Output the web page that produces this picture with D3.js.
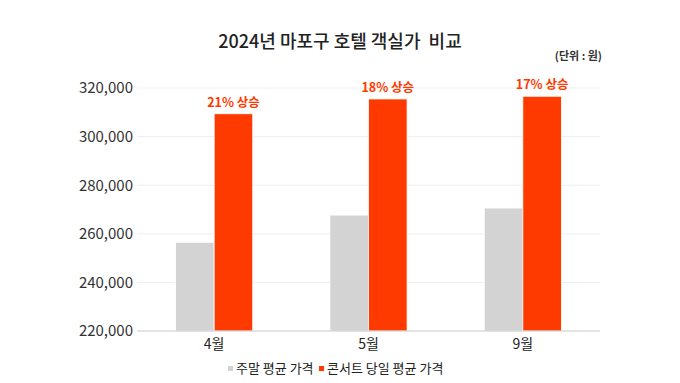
<!DOCTYPE html>
<html><head><meta charset="utf-8">
<script src="https://cdn.jsdelivr.net/npm/d3@7"></script>
<style>body{margin:0;background:#fff}svg{display:block;font-family:"Noto Sans CJK KR","Noto Sans",sans-serif}</style>
</head><body><svg id="c" width="680" height="383"></svg>
<script>
const categories = ["4월", "5월", "9월"];
const seriesNames = ["주말 평균 가격", "콘서트 당일 평균 가격"];
const weekendPrice = [256500, 267700, 270600];
const concertPrice = [309400, 315500, 316600];
const riseLabels = ["21% 상승", "18% 상승", "17% 상승"];
const yTicks = [220000, 240000, 260000, 280000, 300000, 320000];
const colors = ["#d3d3d3", "#ff3a00"];

const svg = d3.select("#c");
const m = {l: 137, r: 600, t: 88, b: 331};
const x = d3.scaleBand().domain(categories).range([m.l, m.r]).paddingInner(0.5).paddingOuter(0.25);
const y = d3.scaleLinear().domain([220000, 320000]).range([m.b, m.t]);
const x1 = d3.scaleBand().domain([0, 1]).range([0, x.bandwidth()]);

// title
svg.append("text").attr("x", 340).attr("y", 48).attr("text-anchor", "middle")
  .style("white-space", "pre")
  .attr("font-size", 18).attr("font-weight", 500).attr("fill", "#222").text("2024년 마포구 호텔 객실가  비교");
svg.append("text").attr("x", 602).attr("y", 60).attr("text-anchor", "end")
  .attr("font-size", 11).attr("font-weight", 700).attr("fill", "#333").text("(단위 : 원)");

// grid
svg.append("g").selectAll("line").data(yTicks.slice(1)).join("line")
  .attr("x1", m.l).attr("x2", m.r).attr("y1", d => y(d)).attr("y2", d => y(d))
  .attr("stroke", "#efefef").attr("stroke-width", 1);

// y axis labels
const yAxis = d3.axisLeft(y).tickValues(yTicks).tickSize(0).tickPadding(4).tickFormat(d3.format(","));
const ya = svg.append("g").attr("transform", `translate(${m.l},0)`).call(yAxis);
ya.select(".domain").remove();
ya.selectAll("text").attr("font-size", 15).attr("fill", "#333").attr("font-family", "'Noto Sans CJK KR','Noto Sans',sans-serif");

// bars
const data = categories.map((c, i) => ({c, v: [weekendPrice[i], concertPrice[i]], label: riseLabels[i]}));
const g = svg.append("g").selectAll("g").data(data).join("g").attr("transform", d => `translate(${x(d.c)},0)`);
g.selectAll("rect").data(d => d.v.map((v, k) => ({v, k}))).join("rect")
  .attr("x", d => x1(d.k)).attr("width", x1.bandwidth())
  .attr("y", d => y(d.v)).attr("height", d => m.b - y(d.v))
  .attr("fill", d => colors[d.k]).attr("stroke", "#fff").attr("stroke-width", 0.8);
g.append("text").attr("x", x1(1) + x1.bandwidth() / 2).attr("y", d => y(d.v[1]) - 7)
  .attr("text-anchor", "middle").attr("font-size", 12.5).attr("font-weight", 600).attr("fill", "#ff3a00")
  .text(d => d.label);

// baseline
svg.append("line").attr("x1", m.l).attr("x2", m.r).attr("y1", m.b).attr("y2", m.b)
  .attr("stroke", "#c8c8c8").attr("stroke-width", 1.2);

// x axis
const xAxis = d3.axisBottom(x).tickSize(0).tickPadding(8);
const xa = svg.append("g").attr("transform", `translate(0,${m.b})`).call(xAxis);
xa.select(".domain").remove();
xa.selectAll("text").attr("font-size", 14).attr("fill", "#222").attr("font-family", "'Noto Sans CJK KR','Noto Sans',sans-serif");

// legend
const lg = svg.append("g");
const lx = [228, 319];
seriesNames.forEach((n, i) => {
  lg.append("rect").attr("x", lx[i]).attr("y", 366).attr("width", 5).attr("height", 5).attr("fill", colors[i]);
  lg.append("text").attr("x", lx[i] + 8).attr("y", 373).attr("font-size", 13).attr("fill", "#222").text(n);
});
</script></body></html>
